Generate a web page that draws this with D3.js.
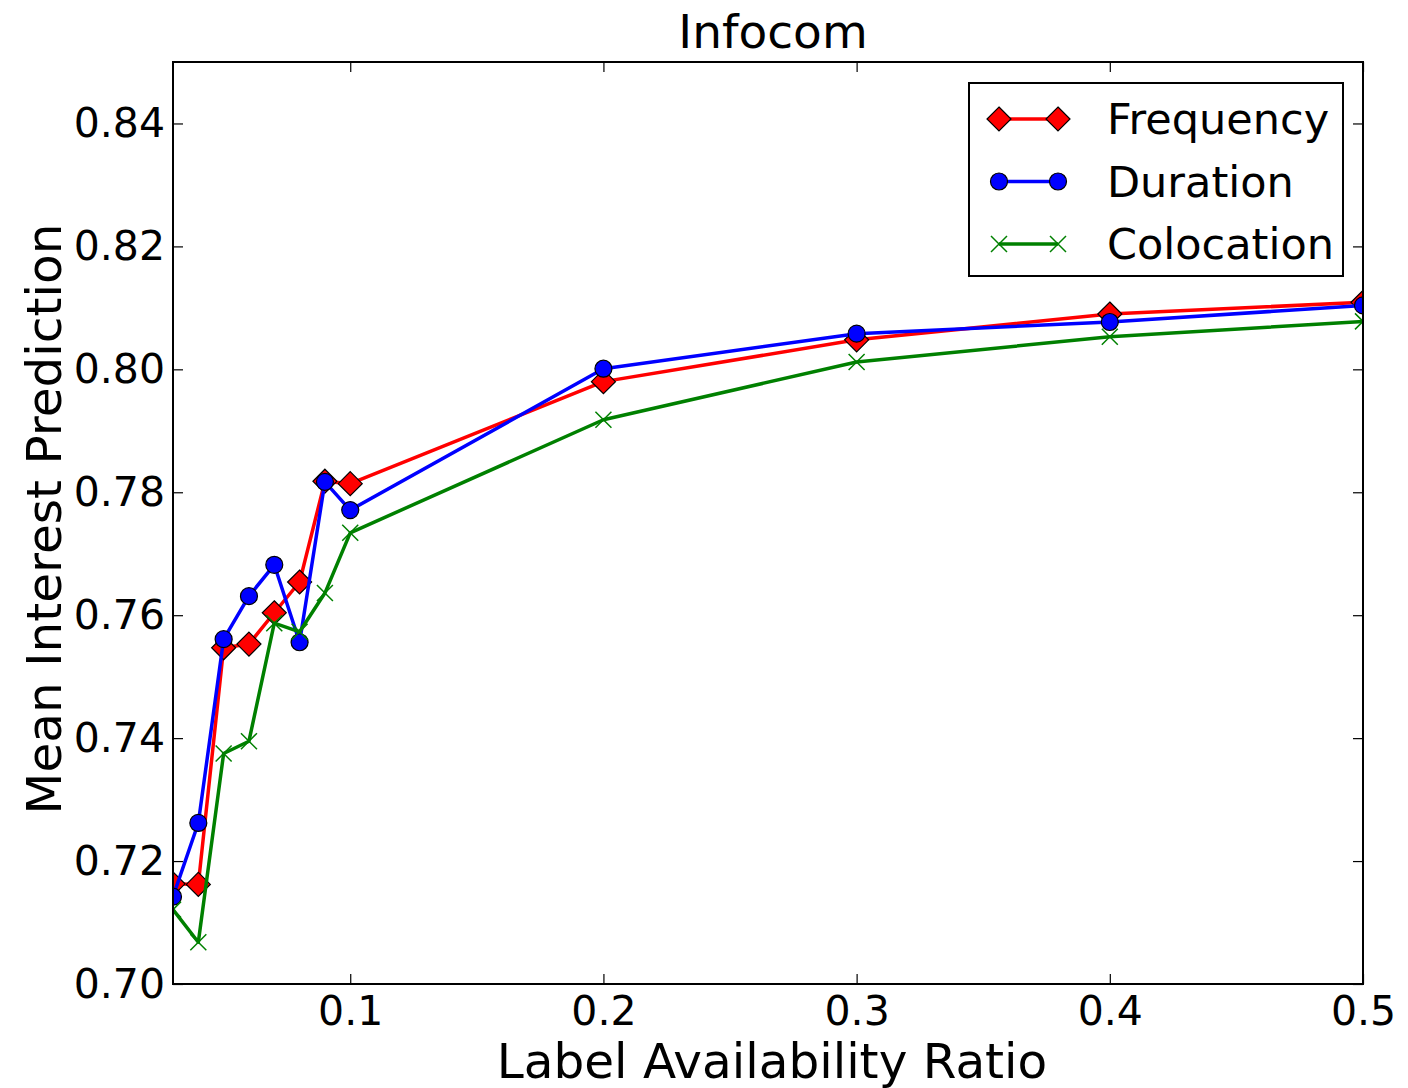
<!DOCTYPE html>
<html>
<head>
<meta charset="utf-8">
<script src="https://cdn.jsdelivr.net/npm/d3@7"></script>
<style>
html,body{margin:0;padding:0;background:#fff;}
svg{display:block;}
text{font-family:"DejaVu Sans",sans-serif;fill:#000;}
</style>
</head>
<body>
<svg id="chart" width="1408" height="1088"></svg>
<script>
const xValues = [0.03, 0.04, 0.05, 0.06, 0.07, 0.08, 0.09, 0.1, 0.2, 0.3, 0.4, 0.5];
const frequency = [0.7163, 0.7162, 0.7547, 0.7553, 0.7604, 0.7654, 0.7818, 0.7814, 0.7980, 0.8048, 0.8090, 0.8109];
const duration  = [0.7142, 0.7262, 0.7561, 0.7631, 0.7682, 0.7556, 0.7817, 0.7771, 0.8001, 0.8058, 0.8077, 0.8104];
const colocation= [0.7121, 0.7068, 0.7375, 0.7395, 0.7587, 0.7573, 0.7636, 0.7734, 0.7918, 0.8012, 0.8053, 0.8078];
const xTicks = [0.1, 0.2, 0.3, 0.4, 0.5];
const yTicks = [0.70, 0.72, 0.74, 0.76, 0.78, 0.80, 0.82, 0.84];
const seriesNames = ["Frequency", "Duration", "Colocation"];

const svg = d3.select("#chart");
const L = 173, R = 1363, T = 62, B = 984;
const x = d3.scaleLinear().domain([0.03, 0.5]).range([L, R]);
const y = d3.scaleLinear().domain([0.70, 0.85]).range([B, T]);

const series = [
  {name: seriesNames[0], values: frequency, color: "#ff0000", marker: "diamond"},
  {name: seriesNames[1], values: duration, color: "#0000ff", marker: "circle"},
  {name: seriesNames[2], values: colocation, color: "#008000", marker: "x"}
];

svg.append("defs").append("clipPath").attr("id","clip")
  .append("rect").attr("x", L).attr("y", T).attr("width", R-L).attr("height", B-T);

function drawMarker(g, type, cx, cy, color) {
  if (type === "diamond") {
    const s = 12;
    g.append("path").attr("d", `M${cx},${cy-s}L${cx+s},${cy}L${cx},${cy+s}L${cx-s},${cy}Z`)
      .attr("fill", color).attr("stroke", "#000").attr("stroke-width", 1.2);
  } else if (type === "circle") {
    g.append("circle").attr("cx", cx).attr("cy", cy).attr("r", 8.5)
      .attr("fill", color).attr("stroke", "#000").attr("stroke-width", 1.2);
  } else {
    const s = 8;
    g.append("path").attr("d", `M${cx-s},${cy-s}L${cx+s},${cy+s}M${cx-s},${cy+s}L${cx+s},${cy-s}`)
      .attr("stroke", color).attr("stroke-width", 1.5).attr("fill", "none");
  }
}

const plot = svg.append("g").attr("clip-path", "url(#clip)");
const line = d3.line().x((d,i) => x(xValues[i])).y(d => y(d));
series.forEach(s => {
  const g = plot.append("g");
  g.append("path").datum(s.values).attr("d", line)
    .attr("fill", "none").attr("stroke", s.color).attr("stroke-width", 3.5)
    .attr("stroke-linejoin", "round");
  s.values.forEach((v, i) => drawMarker(g, s.marker, x(xValues[i]), y(v), s.color));
});

// axes with inward ticks
const tickLen = 10;
const axB = svg.append("g").attr("transform", `translate(0,${B})`)
  .call(d3.axisBottom(x).tickValues(xTicks).tickSize(-tickLen).tickFormat(d3.format("")));
const axT = svg.append("g").attr("transform", `translate(0,${T})`)
  .call(d3.axisTop(x).tickValues(xTicks).tickSize(-tickLen).tickFormat(""));
const axL = svg.append("g").attr("transform", `translate(${L},0)`)
  .call(d3.axisLeft(y).tickValues(yTicks).tickSize(-tickLen).tickPadding(8).tickFormat(d3.format(".2f")));
const axR = svg.append("g").attr("transform", `translate(${R},0)`)
  .call(d3.axisRight(y).tickValues(yTicks).tickSize(-tickLen).tickFormat(""));
[axB, axT, axL, axR].forEach(a => {
  a.select(".domain").remove();
  a.selectAll(".tick line").attr("stroke", "#000").attr("stroke-width", 1.2);
  a.selectAll(".tick text").style("font-family", "DejaVu Sans").style("font-size", "41px").attr("fill", "#000");
});
axB.selectAll(".tick text").attr("y", 41).attr("dy", 0);

svg.append("rect").attr("x", L).attr("y", T).attr("width", R-L).attr("height", B-T)
  .attr("fill", "none").attr("stroke", "#000").attr("stroke-width", 2);

// title & labels
svg.append("text").attr("x", (L+R)/2 + 5).attr("y", 48).attr("text-anchor", "middle")
  .style("font-size", "47px").text("Infocom");
svg.append("text").attr("x", (L+R)/2 + 4).attr("y", 1078).attr("text-anchor", "middle")
  .style("font-size", "48.5px").text("Label Availability Ratio");
svg.append("text").attr("transform", `translate(61,${(T+B)/2 - 4}) rotate(-90)`).attr("text-anchor", "middle")
  .style("font-size", "48.5px").text("Mean Interest Prediction");

// legend
const lg = svg.append("g");
lg.append("rect").attr("x", 969).attr("y", 83).attr("width", 374).attr("height", 193)
  .attr("fill", "#fff").attr("stroke", "#000").attr("stroke-width", 2);
series.forEach((s, i) => {
  const ly = 119 + i * 62.5;
  lg.append("line").attr("x1", 999).attr("x2", 1058).attr("y1", ly).attr("y2", ly)
    .attr("stroke", s.color).attr("stroke-width", 3.5);
  drawMarker(lg, s.marker, 999, ly, s.color);
  drawMarker(lg, s.marker, 1058, ly, s.color);
  lg.append("text").attr("x", 1107).attr("y", ly + 15).style("font-size", "43px").text(s.name);
});
</script>
</body>
</html>
